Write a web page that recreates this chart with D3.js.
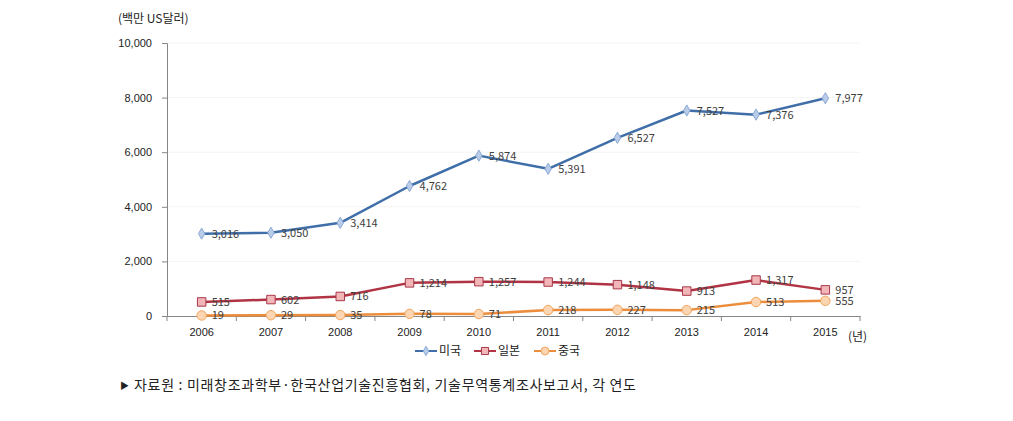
<!DOCTYPE html>
<html><head><meta charset="utf-8">
<script src="https://cdn.jsdelivr.net/npm/d3@7"></script>
<style>
body{margin:0;background:#fff;}
svg{font-family:"Noto Sans CJK KR","Noto Sans",sans-serif;}
</style></head><body>
<svg id="c" width="1013" height="421"></svg>
<script>
const years = ["2006","2007","2008","2009","2010","2011","2012","2013","2014","2015"];
const usValues = [3016,3050,3414,4762,5874,5391,6527,7527,7376,7977];
const japanValues = [515,602,716,1214,1257,1244,1148,913,1317,957];
const chinaValues = [19,29,35,78,71,218,227,215,513,555];
const yTicks = [0,2000,4000,6000,8000,10000];
const seriesNames = ["미국","일본","중국"];

const series = [
  {name:seriesNames[0], values:usValues, line:"#3f6ea8", fill:"#b9cde8", stroke:"#8aa8d6", shape:"diamond"},
  {name:seriesNames[1], values:japanValues, line:"#b03444", fill:"#f2b6b8", stroke:"#a8384a", shape:"square"},
  {name:seriesNames[2], values:chinaValues, line:"#eb8d3c", fill:"#fcd6b2", stroke:"#f2a55c", shape:"circle"}
];

const svg = d3.select("#c");
const x = d3.scaleBand().domain(years).range([167,860]);
const y = d3.scaleLinear().domain([0,10000]).range([316,43]);

// gridlines
svg.append("g").selectAll("line").data(yTicks.filter(d=>d>0)).join("line")
  .attr("x1",167).attr("x2",860).attr("y1",d=>y(d)).attr("y2",d=>y(d))
  .attr("stroke","#f4f4f4").attr("stroke-width",1);

// y axis
const ya = svg.append("g").attr("transform","translate(167,0)")
  .call(d3.axisLeft(y).tickValues(yTicks).tickSize(5).tickPadding(10).tickFormat(d3.format(",")));
ya.select(".domain").attr("stroke","#868686");
ya.selectAll(".tick line").attr("stroke","#868686");
ya.selectAll("text").attr("fill","#222").style("font-size","11px");

// x axis
const xa = svg.append("g").attr("transform","translate(0,316)")
  .call(d3.axisBottom(x).tickSize(0).tickPadding(12));
xa.select(".domain").attr("stroke","#868686");
xa.selectAll("text").attr("fill","#222").style("font-size","11px");
// boundary ticks
svg.append("g").selectAll("line").data(years.concat(["end"])).join("line")
  .attr("x1",(d,i)=>167+i*x.step()).attr("x2",(d,i)=>167+i*x.step())
  .attr("y1",316).attr("y2",321).attr("stroke","#868686");

const cx = d => x(d)+x.bandwidth()/2;
const symbolOf = s => s==="diamond"? d3.symbolDiamond : s==="square"? d3.symbolSquare : d3.symbolCircle;
const sizeOf = s => s==="diamond"? 36 : s==="square"? 72 : 70;

const line = d3.line().x((d,i)=>cx(years[i])).y(d=>y(d));

series.slice().reverse().forEach(s=>{
  const g = svg.append("g");
  g.append("path").attr("d",line(s.values)).attr("fill","none")
    .attr("stroke",s.line).attr("stroke-width",2.5).attr("stroke-linejoin","round");
  g.selectAll("path.m").data(s.values).join("path").attr("class","m")
    .attr("transform",(d,i)=>`translate(${cx(years[i])},${y(d)})`)
    .attr("d",d3.symbol().type(symbolOf(s.shape)).size(sizeOf(s.shape)))
    .attr("fill",s.fill).attr("stroke",s.stroke).attr("stroke-width",1);
  g.selectAll("text").data(s.values).join("text")
    .attr("x",(d,i)=>cx(years[i])+10).attr("y",d=>y(d)+4)
    .attr("fill","#404040").style("font-size","11px")
    .text(d=>d3.format(",")(d));
});

// unit labels
svg.append("text").attr("x",118).attr("y",23).attr("fill","#222").style("font-size","12px").text("(백만 US달러)");
svg.append("text").attr("x",848).attr("y",341).attr("fill","#222").style("font-size","12px").text("(년)");

// legend
const legX = [415,474,534];
series.forEach((s,i)=>{
  const g = svg.append("g").attr("transform",`translate(${legX[i]},351)`);
  g.append("line").attr("x1",0).attr("x2",22).attr("y1",0).attr("y2",0).attr("stroke",s.line).attr("stroke-width",2);
  g.append("path").attr("transform","translate(11,0)")
    .attr("d",d3.symbol().type(symbolOf(s.shape)).size(sizeOf(s.shape)*0.7))
    .attr("fill",s.fill).attr("stroke",s.stroke);
  g.append("text").attr("x",24).attr("y",4).attr("fill","#222").style("font-size","12px").text(s.name);
});

// source
svg.append("text").attr("x",120).attr("y",389).attr("fill","#222").style("font-size","9px").text("▶");
svg.append("text").attr("x",134).attr("y",390).attr("fill","#222").style("font-size","14px")
  .attr("textLength",502).attr("lengthAdjust","spacing")
  .text("자료원 : 미래창조과학부·한국산업기술진흥협회, 기술무역통계조사보고서, 각 연도");
</script>
</body></html>
